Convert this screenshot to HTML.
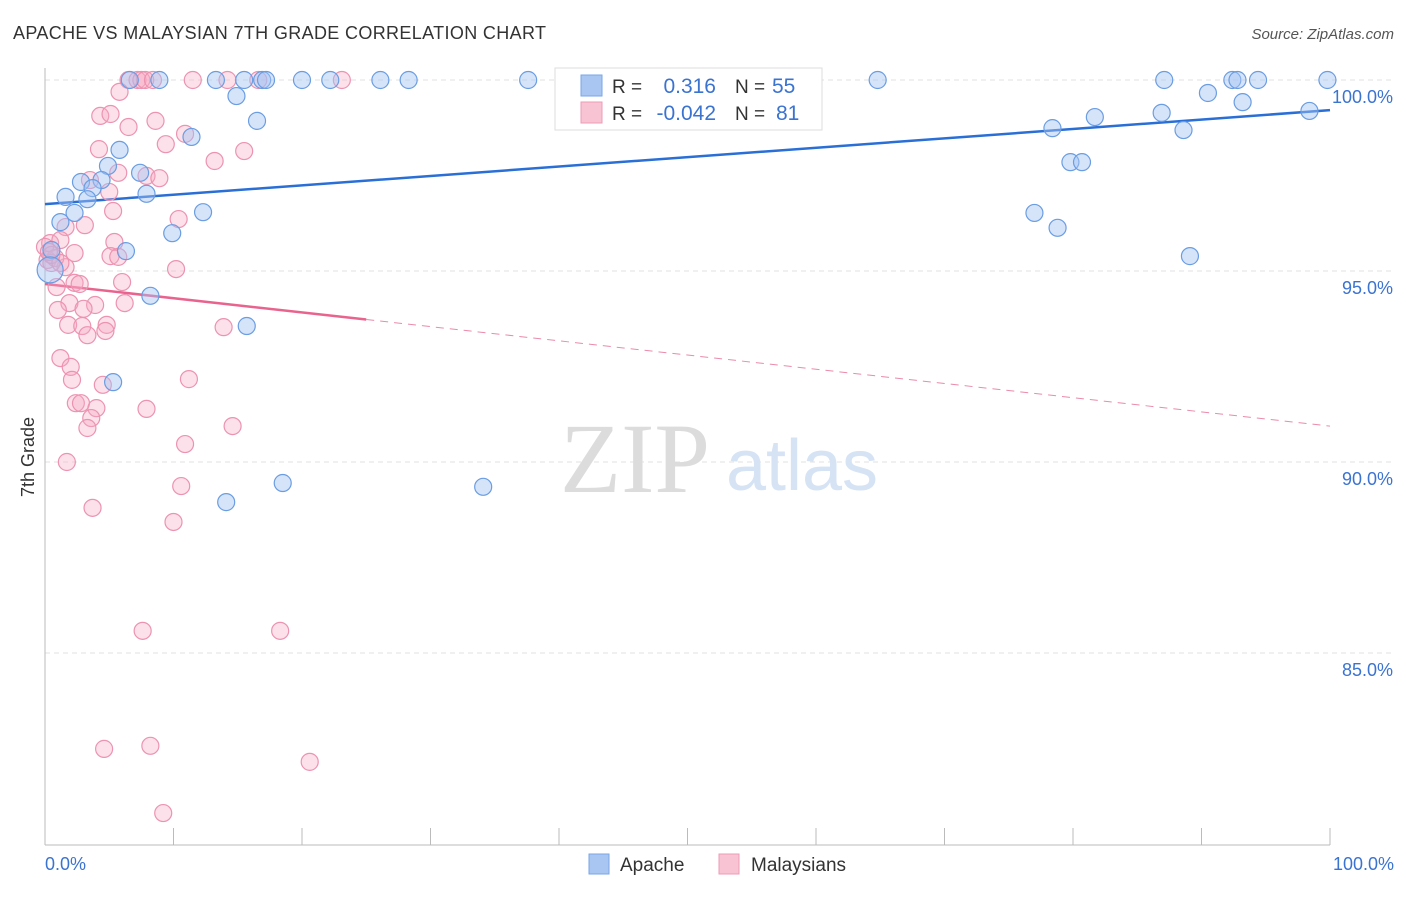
<!DOCTYPE html>
<html><head><meta charset="utf-8"><style>
body{margin:0;background:#fff;font-family:"Liberation Sans",sans-serif;}
svg text{font-family:"Liberation Sans",sans-serif;}
</style></head><body>
<svg id="chart" width="1406" height="892" viewBox="0 0 1406 892">
<text x="13" y="39" font-size="18" fill="#333" textLength="533">APACHE VS MALAYSIAN 7TH GRADE CORRELATION CHART</text>
<text x="1394" y="39" font-size="15" fill="#555" font-style="italic" text-anchor="end">Source: ZipAtlas.com</text>
<g id="grid"></g>
<g>
<text x="635" y="492" font-size="100" fill="#dcdcdc" text-anchor="middle" style="font-family:'Liberation Serif',serif">ZIP</text>
<text x="802" y="490" font-size="72" fill="#d5e3f5" text-anchor="middle">atlas</text>
</g>
<line x1="45" y1="68" x2="45" y2="845" stroke="#bbb"/>
<line x1="45" y1="845" x2="1330" y2="845" stroke="#bbb"/>
<g id="ticks"></g>
<g id="lines"></g>
<g id="points"></g>
<text x="34" y="457" font-size="18" fill="#333" text-anchor="middle" transform="rotate(-90 34 457)">7th Grade</text>
<text x="45" y="870" font-size="18" fill="#3b73d1">0.0%</text>
<text x="1394" y="870" font-size="18" fill="#3b73d1" text-anchor="end">100.0%</text>
<g>
<rect x="555" y="68" width="267" height="62" fill="#fff" stroke="#ddd"/>
<rect x="581" y="75" width="21" height="21" fill="#a9c6f2" stroke="#7aa6e6"/>
<rect x="581" y="102" width="21" height="21" fill="#f8c3d3" stroke="#ee9cb7"/>
<text x="612" y="93" font-size="19" fill="#333">R =</text>
<text x="716" y="93" font-size="21" fill="#3b73d1" text-anchor="end">0.316</text>
<text x="735" y="93" font-size="19" fill="#333">N =</text>
<text x="772" y="93" font-size="21" fill="#3b73d1">55</text>
<text x="612" y="120" font-size="19" fill="#333">R =</text>
<text x="716" y="120" font-size="21" fill="#3b73d1" text-anchor="end">-0.042</text>
<text x="735" y="120" font-size="19" fill="#333">N =</text>
<text x="776" y="120" font-size="21" fill="#3b73d1">81</text>
</g>
<g>
<rect x="589" y="854" width="20" height="20" fill="#a9c6f2" stroke="#7aa6e6"/>
<text x="620" y="871" font-size="19" fill="#333">Apache</text>
<rect x="719" y="854" width="20" height="20" fill="#f8c3d3" stroke="#ee9cb7"/>
<text x="751" y="871" font-size="19" fill="#333">Malaysians</text>
</g>
</svg>
<script>
const yTicks=[100,95,90,85];
const yTickLabels=["100.0%","95.0%","90.0%","85.0%"];
const xTicks=[0,10,20,30,40,50,60,70,80,90,100];
const apacheX=[6.6,8.9,13.3,15.5,16.9,17.2,20.0,22.2,26.1,28.3,37.6,42.6,64.8,87.1,92.4,92.8,94.4,99.8,14.9,11.4,16.5,5.8,4.9,7.4,2.8,4.4,1.6,3.7,3.3,7.9,2.3,1.2,12.3,9.9,6.3,0.5,0.4,8.2,15.7,5.3,14.1,18.5,34.1,90.5,93.2,98.4,78.4,81.7,86.9,88.6,79.8,80.7,77.0,78.8,89.1];
const apacheY=[100,100,100,100,100,100,100,100,100,100,100,100,100,100,100,100,100,100,99.58,98.51,98.93,98.17,97.75,97.57,97.33,97.38,96.94,97.17,96.88,97.02,96.52,96.28,96.54,95.99,95.52,95.55,95.03,94.35,93.56,92.09,88.95,89.45,89.35,99.66,99.42,99.19,98.74,99.03,99.14,98.69,97.85,97.85,96.52,96.13,95.39];
const malayX=[6.5,7.2,7.5,7.8,8.4,11.5,14.2,16.6,23.1,5.8,4.3,5.1,6.5,8.6,9.4,4.2,10.9,5.7,7.9,8.9,13.2,15.5,3.5,5.0,10.4,5.3,1.6,3.1,0.4,1.2,2.3,5.4,5.1,5.7,10.2,1.6,2.3,2.7,6.0,0.9,1.9,3.9,6.2,1.0,3.0,1.8,2.9,4.8,4.7,3.3,13.9,1.2,2.0,2.1,4.5,11.2,2.4,2.8,4.0,3.6,3.3,7.9,14.6,10.9,1.7,10.6,3.7,10.0,7.6,18.3,4.6,8.2,20.6,9.2,0.0,0.2,0.8,0.5,0.5,1.2,0.3];
const malayY=[100,100,100,100,100,100,100,100,100,99.69,99.06,99.11,98.77,98.93,98.32,98.19,98.59,97.57,97.49,97.43,97.88,98.14,97.38,97.07,96.36,96.57,96.15,96.20,95.73,95.81,95.47,95.76,95.39,95.37,95.05,95.10,94.69,94.66,94.71,94.58,94.16,94.11,94.16,93.98,94.01,93.59,93.56,93.59,93.43,93.32,93.53,92.72,92.49,92.15,92.02,92.17,91.54,91.54,91.41,91.15,90.89,91.39,90.94,90.47,90.0,89.37,88.80,88.43,85.58,85.58,82.49,82.57,82.15,80.81,95.63,95.29,95.34,95.21,95.42,95.21,95.5];
const apacheTrend=[96.75,99.21];
const malayTrend=[94.66,90.94];
const malaySolidEnd=25;

const NS="http://www.w3.org/2000/svg";
const xs=v=>45+v*12.85;
const ys=v=>80+(100-v)*38.2;
function mk(tag,attrs,parent){const e=document.createElementNS(NS,tag);for(const k in attrs)e.setAttribute(k,attrs[k]);document.getElementById(parent).appendChild(e);return e;}
yTicks.forEach((t,i)=>{
  const l=mk('line',{x1:45,x2:1394,y1:ys(t),y2:ys(t),stroke:'#e2e2e2','stroke-dasharray':'5,4'},'grid');
  
  
  const tx=mk('text',{x:1393,y:ys(t)+23,'font-size':18,fill:'#3b73d1','text-anchor':'end'},'grid');
  tx.textContent=yTickLabels[i];
  
  
});
xTicks.forEach(t=>{
  const l=mk('line',{x1:xs(t),x2:xs(t),y1:828,y2:845,stroke:'#bbb'},'ticks');
  
  
});
function lerp(a,t){return a[0]+(a[1]-a[0])*t/100;}
let l1=mk('line',{x1:xs(0),y1:ys(apacheTrend[0]),x2:xs(100),y2:ys(apacheTrend[1]),stroke:'#2a6fd6','stroke-width':2.5},'lines');


let l2=mk('line',{x1:xs(0),y1:ys(malayTrend[0]),x2:xs(malaySolidEnd),y2:ys(lerp(malayTrend,malaySolidEnd)),stroke:'#e8648f','stroke-width':2.5},'lines');


let l3=mk('line',{x1:xs(malaySolidEnd),y1:ys(lerp(malayTrend,malaySolidEnd)),x2:xs(100),y2:ys(malayTrend[1]),stroke:'#eb8aaa','stroke-width':1,'stroke-dasharray':'8,6'},'lines');


malayX.forEach((x,i)=>{
  const c=mk('circle',{cx:xs(x),cy:ys(malayY[i]),r:8.5,fill:'rgba(245,170,196,0.35)',stroke:'#ec93b1','stroke-width':1.2},'points');
  
  
});
apacheX.forEach((x,i)=>{
  const c=mk('circle',{cx:xs(x),cy:ys(apacheY[i]),r:(i==36?13:8.5),fill:'rgba(164,196,244,0.45)',stroke:'#6a9de2','stroke-width':1.2},'points');
  
  
});
</script>
</body></html>
